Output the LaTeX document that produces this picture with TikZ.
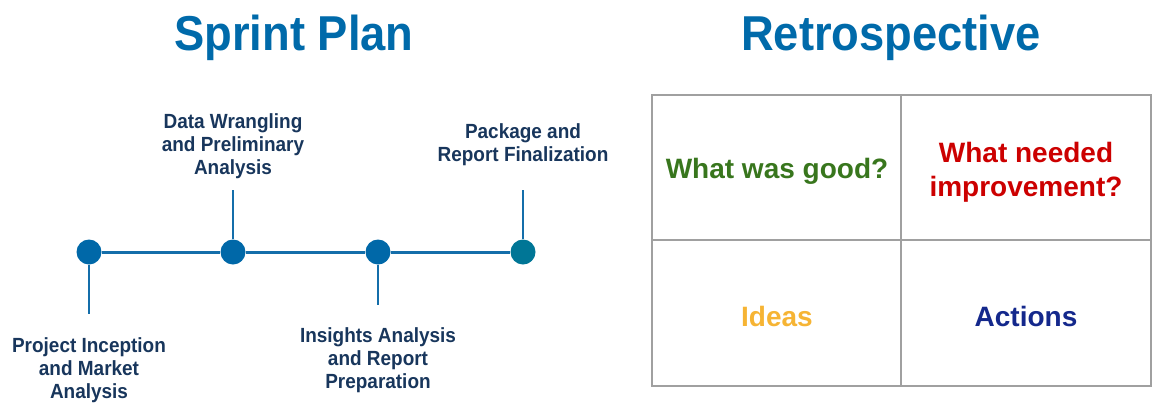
\documentclass[tikz,border=0pt]{standalone}
\usepackage{fontspec}
\setmainfont{Liberation Sans}
\newfontfamily\narrowfont{Liberation Sans}[FakeStretch=0.925]
\definecolor{titleblue}{RGB}{0,106,170}
\definecolor{dotblue}{RGB}{0,104,168}
\definecolor{dotteal}{RGB}{0,118,150}
\definecolor{linkblue}{RGB}{20,110,170}
\definecolor{navy}{RGB}{24,54,92}
\definecolor{gridgray}{RGB}{160,160,160}
\definecolor{goodgreen}{RGB}{56,118,29}
\definecolor{needred}{RGB}{204,0,0}
\definecolor{ideaorange}{RGB}{246,180,52}
\definecolor{actblue}{RGB}{20,40,140}
\tikzset{
  titletext/.style={text=titleblue,font=\narrowfont\fontsize{49}{54}\selectfont\bfseries,inner sep=0pt,anchor=base},
  dotnode/.style={circle,fill=dotblue,minimum size=25pt,inner sep=0pt},
  steplabel/.style={text=navy,align=center,font=\narrowfont\fontsize{20.5}{23}\selectfont\bfseries,inner sep=0pt},
  tline/.style={draw=linkblue,line width=3pt},
  stem/.style={draw=linkblue,line width=2.5pt},
  gridline/.style={draw=gridgray,line width=2.8pt},
  celltext/.style={align=center,font=\fontsize{28}{34}\selectfont\bfseries,inner sep=0pt}
}
\begin{document}
\begin{tikzpicture}[x=1pt,y=-1pt]
\useasboundingbox (0,0) rectangle (1167,413);
% titles
\node[titletext] (t1) at (294,50) {Sprint Plan};
\node[titletext] (t2) at (891,50) {Retrospective};
% dots
\node[dotnode] (d1) at (89,252) {};
\node[dotnode] (d2) at (233,252) {};
\node[dotnode] (d3) at (378,252) {};
\node[dotnode,fill=dotteal] (d4) at (523,252) {};
\draw[tline] (d1) -- (d2);
\draw[tline] (d2) -- (d3);
\draw[tline] (d3) -- (d4);
\coordinate (s1) at (89,314);
\coordinate (s2) at (233,190);
\coordinate (s3) at (378,305);
\coordinate (s4) at (523,190);
\draw[stem] (d1.south) -- (s1);
\draw[stem] (d2.north) -- (s2);
\draw[stem] (d3.south) -- (s3);
\draw[stem] (d4.north) -- (s4);
% labels
\node[steplabel] (l1) at (89,370) {Project Inception\\and Market\\Analysis};
\node[steplabel] (l2) at (233,146) {Data Wrangling\\and Preliminary\\Analysis};
\node[steplabel] (l3) at (378,360) {Insights Analysis\\and Report\\Preparation};
\node[steplabel] (l4) at (523,144.5) {Package and\\Report Finalization};
% grid
\draw[gridline] (652,95) rectangle (1151,386);
\coordinate (gt) at (901,95);
\coordinate (gb) at (901,386);
\coordinate (gl) at (652,240);
\coordinate (gr) at (1151,240);
\draw[gridline] (gt) -- (gb);
\draw[gridline] (gl) -- (gr);
\node[celltext,text=goodgreen] (c1) at (777,171) {What was good?};
\node[celltext,text=needred] (c2) at (1026,172) {What needed\\improvement?};
\node[celltext,text=ideaorange] (c3) at (777,316) {Ideas};
\node[celltext,text=actblue] (c4) at (1026,316) {Actions};
\end{tikzpicture}
\end{document}
